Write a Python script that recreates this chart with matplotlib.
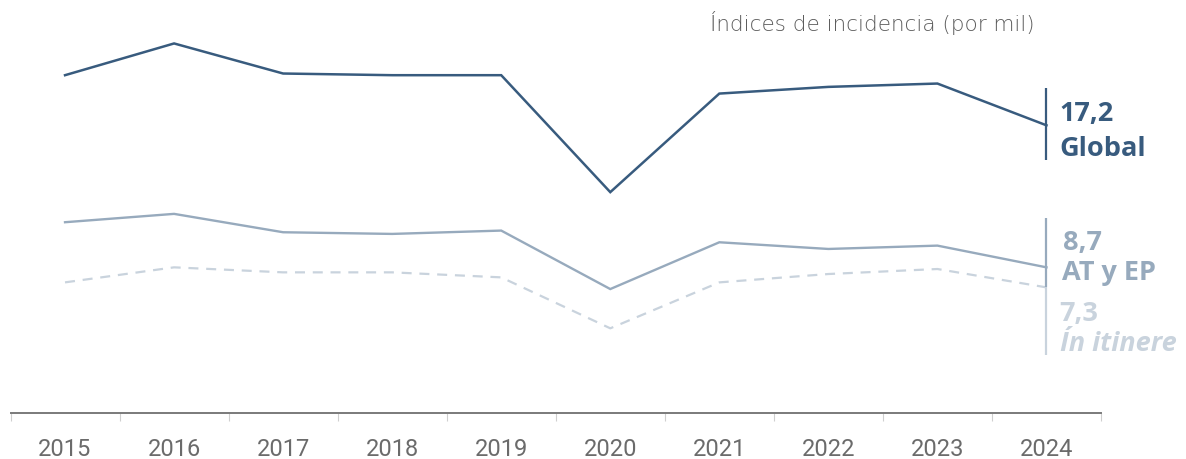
import matplotlib
matplotlib.use("Agg")
import matplotlib.pyplot as plt

# Índices de incidencia (por mil)
years = ["2015", "2016", "2017", "2018", "2019", "2020", "2021", "2022", "2023", "2024"]
global_idx = [20.2, 22.1, 20.3, 20.2, 20.2, 13.2, 19.1, 19.5, 19.7, 17.2]
at_ep_idx = [11.4, 11.9, 10.8, 10.7, 10.9, 7.4, 10.2, 9.8, 10.0, 8.7]
itinere_idx = [7.8, 8.7, 8.4, 8.4, 8.1, 5.05, 7.8, 8.3, 8.6, 7.5]

end_values = ["17,2", "8,7", "7,3"]
end_names = ["Global", "AT y EP", "Ín itinere"]

C_GLOBAL = "#385b7e"
C_ATEP = "#97aabd"
C_ITIN = "#c9d3dd"
C_TEXT = "#6b6b6b"

plt.rcParams["font.family"] = ["Roboto", "DejaVu Sans"]
LABEL_FONT = ["Open Sans", "DejaVu Sans"]

fig = plt.figure(figsize=(11.86, 4.59), dpi=100)
ax = fig.add_axes([10.5 / 1186, 46.3 / 459, (1101 - 10.5) / 1186, 401 / 459])

x = list(range(len(years)))
ax.plot(x, global_idx, color=C_GLOBAL, lw=1.8, solid_joinstyle="miter")
ax.plot(x, at_ep_idx, color=C_ATEP, lw=1.7, solid_joinstyle="miter")
ax.plot(x, itinere_idx, color=C_ITIN, lw=1.6, dashes=(4.5, 3.5))

ax.set_xlim(-0.5, len(years) - 0.5)
ax.set_ylim(0, 24)

# barras verticales de las etiquetas finales
last = len(years) - 1
ax.vlines(last, 15.15, 19.46, color=C_GLOBAL, lw=1.6)
ax.vlines(last, 7.55, 11.67, color=C_ATEP, lw=1.6)
ax.vlines(last, 3.47, 7.55, color=C_ITIN, lw=1.6)

lx = last + 0.12
lab = dict(fontsize=19.5, fontweight="bold", va="baseline", family=LABEL_FONT)
ax.text(lx, 17.44, end_values[0], color=C_GLOBAL, **lab)
ax.text(lx, 15.34, end_names[0], color=C_GLOBAL, **lab)
ax.text(lx + 0.03, 9.76, end_values[1], color=C_ATEP, **lab)
ax.text(lx + 0.02, 7.97, end_names[1], color=C_ATEP, **lab)
ax.text(lx, 5.51, end_values[2], color=C_ITIN, **lab)
ax.text(lx, 3.67, end_names[2], color=C_ITIN, fontstyle="italic", **lab)

# eje
for s in ["top", "right", "left"]:
    ax.spines[s].set_visible(False)
ax.spines["bottom"].set_color("#7a7a7a")
ax.spines["bottom"].set_linewidth(1.4)
ax.set_yticks([])
ax.set_xticks(x)
ax.set_xticklabels(years, color=C_TEXT, fontsize=17)
ax.tick_params(axis="x", which="major", length=0, pad=18)
ax.set_xticks([i - 0.5 for i in range(len(years) + 1)], minor=True)
ax.tick_params(axis="x", which="minor", length=6, width=0.8, color="#cfcfcf")

fig.text(1035 / 1186, 1 - 31 / 459, "Índices de incidencia (por mil)", ha="right",
         va="baseline", fontsize=15.5, color="#5c5c5c", fontweight="light",
         family=["DejaVu Sans"])

fig.savefig("out.png", dpi=100)
